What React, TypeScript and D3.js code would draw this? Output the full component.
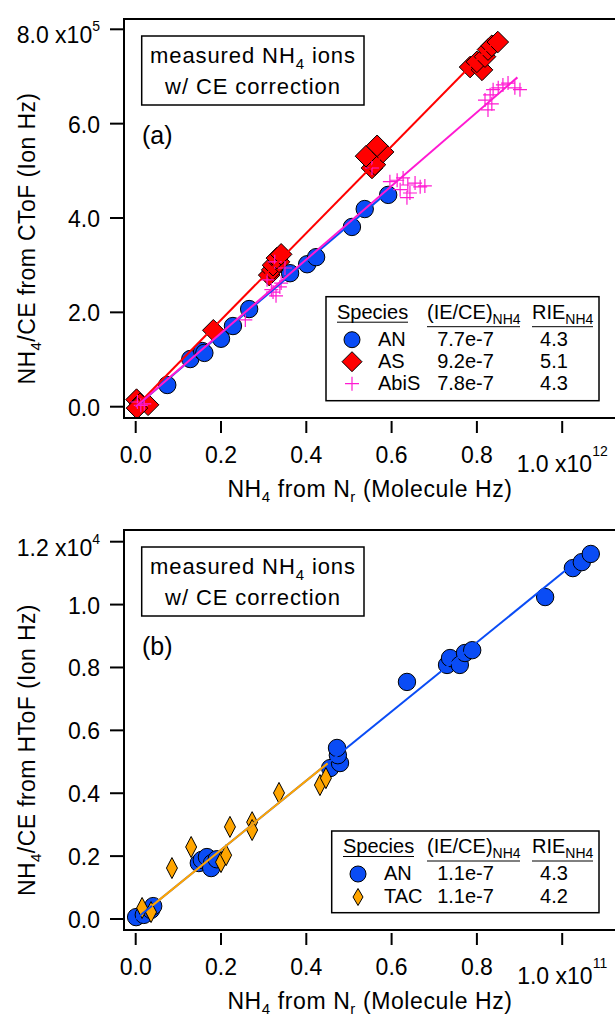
import React from "react";
import * as d3 from "d3";

// panel (a): x in 1e12 molecule Hz, y in 1e5 ion Hz
const anA: [number, number][] = [
  [0.074, 0.46], [0.128, 1.01], [0.156, 1.18], [0.161, 1.14], [0.2, 1.44],
  [0.228, 1.71], [0.266, 2.07], [0.362, 2.83], [0.402, 3.02], [0.423, 3.17],
  [0.507, 3.81], [0.537, 4.19], [0.592, 4.49],
];
const asA: [number, number][] = [
  [0.002, 0.15], [0.01, 0.06], [0.029, 0.04], [0.003, -0.03], [0.182, 1.62],
  [0.313, 2.79], [0.32, 2.9], [0.322, 3.0], [0.336, 3.07], [0.331, 3.15], [0.341, 3.23],
  [0.554, 5.06], [0.561, 5.13], [0.54, 5.31], [0.58, 5.4], [0.566, 5.53],
  [0.784, 7.2], [0.812, 7.14], [0.8, 7.31], [0.819, 7.42], [0.826, 7.57], [0.835, 7.65], [0.849, 7.73],
];
const abisA: [number, number][] = [
  [0.004, 0.1], [0.012, 0.03], [0.02, 0.06],
  [0.257, 1.84], [0.308, 2.69], [0.322, 2.43], [0.338, 2.54], [0.318, 2.48], [0.329, 2.35],
  [0.341, 2.62], [0.326, 3.07], [0.35, 2.94],
  [0.554, 5.06], [0.596, 4.77], [0.613, 4.8], [0.627, 4.85], [0.638, 4.7], [0.655, 4.74],
  [0.667, 4.66], [0.678, 4.68], [0.643, 4.53], [0.636, 4.43], [0.62, 4.6],
  [0.819, 6.5], [0.831, 6.61], [0.838, 6.72], [0.85, 6.76], [0.861, 6.82], [0.873, 6.86],
  [0.889, 6.76], [0.901, 6.72], [0.826, 6.29], [0.835, 6.42],
];

// panel (b): x in 1e11 molecule Hz, y in 1e4 ion Hz
const anB: [number, number][] = [
  [0.001, 0.006], [0.019, 0.013], [0.036, 0.029], [0.041, 0.041],
  [0.148, 0.178], [0.155, 0.188], [0.167, 0.197], [0.179, 0.178], [0.177, 0.162], [0.19, 0.19],
  [0.456, 0.48], [0.479, 0.496], [0.474, 0.521], [0.472, 0.544],
  [0.636, 0.754], [0.73, 0.808], [0.737, 0.83], [0.76, 0.808], [0.772, 0.846], [0.789, 0.855],
  [0.96, 1.024], [1.025, 1.116], [1.046, 1.135], [1.067, 1.161],
];
const tacB: [number, number][] = [
  [0.015, 0.035], [0.036, 0.022], [0.085, 0.162], [0.13, 0.229], [0.2, 0.181], [0.212, 0.203],
  [0.221, 0.293], [0.273, 0.308], [0.273, 0.283], [0.336, 0.401], [0.432, 0.426], [0.446, 0.448],
];

const xTicks = [0, 0.2, 0.4, 0.6, 0.8, 1.0];
const yTicksA = [0, 2, 4, 6, 8];
const yTicksB = [0, 0.2, 0.4, 0.6, 0.8, 1.0, 1.2];

// legend rows: species, (IE/CE)NH4 slope, RIE; plus the x span of each fit line
const speciesA = ["AN", "AS", "AbiS"];
const slopesA = [7.7e-7, 9.2e-7, 7.8e-7];
const rieA = ["4.3", "5.1", "4.3"];
const fitSpanA: [number, number][] = [[0, 0.59], [0, 0.849], [0, 0.895]];

const speciesB = ["AN", "TAC"];
const slopesB = [1.1e-7, 1.1e-7];
const rieB = ["4.3", "4.2"];
const fitSpanB: [number, number][] = [[0, 1.011], [0.038, 0.45]];

const FONT = "'Liberation Sans', Arial, Helvetica, sans-serif";
const BLUE = "#0a4cf5";
const RED = "#ff0000";
const MAGENTA = "#ff1ad2";
const ORANGE = "#ffa500";

function Marker({ kind, x, y, small }: { kind: string; x: number; y: number; small?: boolean }) {
  if (kind === "circle")
    return <circle cx={x} cy={y} r={small ? 8 : 8.7} fill={BLUE} stroke="#000" strokeWidth={1} />;
  if (kind === "diamond") {
    const s = small ? 10 : 10.8;
    return <path d={`M${x},${y - s}L${x + s},${y}L${x},${y + s}L${x - s},${y}Z`} fill={RED} stroke="#000" strokeWidth={1} />;
  }
  if (kind === "plus") {
    const s = 7;
    return <path d={`M${x - s},${y}H${x + s}M${x},${y - s}V${y + s}`} stroke={MAGENTA} strokeWidth={1.2} fill="none" />;
  }
  const w = small ? 5 : 5.5, h = small ? 8.5 : 10.5;
  return <path d={`M${x},${y - h}L${x + w},${y}L${x},${y + h}L${x - w},${y}Z`} fill={ORANGE} stroke="#000" strokeWidth={1} />;
}

type Series = { data: [number, number][]; kind: string };
type Fit = { slope: number; span: [number, number]; color: string };

function Panel(props: {
  top: number; bottom: number; y0: number; yTop: number; yTicks: number[]; yMax: number;
  yExp: string; xExp: string; tag: string; yTitle: string; series: Series[]; fits: Fit[];
  legend: { species: string[]; slopes: number[]; rie: string[]; kinds: string[] };
  legendBox: [number, number, number, number]; rowGap: number; legendX: number;
}) {
  const { top, bottom, y0, yTop, yTicks, yMax } = props;
  const left = 124, right = 617;
  const x = d3.scaleLinear().domain([0, 1]).range([135.7, 562.2]);
  const y = d3.scaleLinear().domain([0, yMax]).range([y0, yTop]);
  const line = d3.line<[number, number]>().x((d) => x(d[0])).y((d) => y(d[1]));
  const fmt = d3.format(".1f");
  const [lx0, ly0, lx1, ly1] = props.legendBox;
  const hb = ly0 + 22;
  const mx = props.legendX;

  return (
    <g fontFamily={FONT}>
      <defs>
        <clipPath id={`clip${props.tag}`}>
          <rect x={left} y={top} width={right - left} height={bottom - top} />
        </clipPath>
      </defs>
      <g clipPath={`url(#clip${props.tag})`}>
        {props.series.map((s, i) => (
          <g key={i}>
            {s.data.map((d, j) => <Marker key={j} kind={s.kind} x={x(d[0])} y={y(d[1])} />)}
          </g>
        ))}
        {props.fits.map((f, i) => (
          <path key={i} d={line(f.span.map((v) => [v, v * f.slope * 1e7]) as [number, number][]) || ""}
            stroke={f.color} strokeWidth={2} fill="none" />
        ))}
      </g>
      <rect x={left} y={top} width={right - left} height={bottom - top} fill="none" stroke="#000" strokeWidth={2} />
      {/* y axis */}
      {yTicks.map((t, i) => {
        const last = i === yTicks.length - 1;
        return (
          <g key={t}>
            <line x1={110} x2={left} y1={y(t)} y2={y(t)} stroke="#000" strokeWidth={2} />
            {last ? (
              <text x={100} y={y(t) + 14} fontSize={23} textAnchor="end">
                {fmt(t)} x10<tspan fontSize={14} dy={-12}>{props.yExp}</tspan>
              </text>
            ) : (
              <text x={100} y={y(t) + 9} fontSize={23} textAnchor="end">{fmt(t)}</text>
            )}
          </g>
        );
      })}
      {/* x axis */}
      {xTicks.map((t, i) => {
        const last = i === xTicks.length - 1;
        return (
          <g key={t}>
            <line x1={x(t)} x2={x(t)} y1={bottom + 3} y2={bottom + 15} stroke="#000" strokeWidth={2} />
            {last ? (
              <text x={x(t)} y={bottom + 54} fontSize={23} textAnchor="middle">
                {fmt(t)} x10<tspan fontSize={14} dy={-16}>{props.xExp}</tspan>
              </text>
            ) : (
              <text x={x(t)} y={bottom + 45} fontSize={23} textAnchor="middle">{fmt(t)}</text>
            )}
          </g>
        );
      })}
      <text x={370} y={bottom + 79} fontSize={23} textAnchor="middle" letterSpacing={0.6}>
        NH<tspan fontSize={15} dy={5}>4</tspan><tspan dy={-5}> from N</tspan>
        <tspan fontSize={15} dy={5}>r</tspan><tspan dy={-5}> (Molecule Hz)</tspan>
      </text>
      <text transform={`translate(35,${(top + bottom) / 2 + 20}) rotate(-90)`} fontSize={23} textAnchor="middle" letterSpacing={0.4}>
        NH<tspan fontSize={15} dy={6}>4</tspan><tspan dy={-6}>{props.yTitle}</tspan>
      </text>
      {/* note box */}
      <rect x={141.7} y={top + 17} width={222.3} height={69} fill="#fff" stroke="#000" strokeWidth={1.5} />
      <text x={253} y={top + 44} fontSize={22} textAnchor="middle" letterSpacing={0.9}>
        measured NH<tspan fontSize={15} dy={6}>4</tspan><tspan dy={-6}> ions</tspan>
      </text>
      <text x={253} y={top + 75} fontSize={22} textAnchor="middle" letterSpacing={0.9}>w/ CE correction</text>
      <text x={142} y={top + 125} fontSize={25}>({props.tag})</text>
      {/* legend */}
      <rect x={lx0} y={ly0} width={lx1 - lx0} height={ly1 - ly0} fill="#fff" stroke="#000" strokeWidth={1.5} />
      <g fontSize={20}>
        <text x={mx - 15} y={hb}>Species</text>
        <line x1={mx - 15} x2={mx + 56} y1={hb + 3.5} y2={hb + 3.5} stroke="#000" strokeWidth={1} />
        <text x={427} y={hb}>(IE/CE)<tspan fontSize={14} dy={5}>NH4</tspan></text>
        <line x1={427} x2={520} y1={hb + 8} y2={hb + 8} stroke="#000" strokeWidth={1} />
        <text x={532} y={hb}>RIE<tspan fontSize={14} dy={5}>NH4</tspan></text>
        <line x1={532} x2={593} y1={hb + 8} y2={hb + 8} stroke="#000" strokeWidth={1} />
        {props.legend.species.map((sp, i) => {
          const by = hb + 27 + i * props.rowGap;
          return (
            <g key={sp}>
              <Marker kind={props.legend.kinds[i]} x={mx} y={by - 6} small />
              <text x={mx + 26} y={by}>{sp}</text>
              <text x={465.5} y={by} textAnchor="middle">{d3.format(".1e")(props.legend.slopes[i])}</text>
              <text x={554} y={by} textAnchor="middle">{props.legend.rie[i]}</text>
            </g>
          );
        })}
      </g>
    </g>
  );
}

export default function App() {
  return (
    <svg width={615} height={1017} style={{ position: "absolute", left: 0, top: 0, background: "#fff" }}>
      <rect width={615} height={1017} fill="#fff" />
      <Panel
        top={19} bottom={418} y0={406.7} yTop={29.3} yMax={8} yTicks={yTicksA}
        yExp="5" xExp="12" tag="a" yTitle="/CE from CToF (Ion Hz)"
        series={[{ data: anA, kind: "circle" }, { data: asA, kind: "diamond" }, { data: abisA, kind: "plus" }]}
        fits={[
          { slope: slopesA[0], span: fitSpanA[0], color: BLUE },
          { slope: slopesA[1], span: fitSpanA[1], color: RED },
          { slope: slopesA[2], span: fitSpanA[2], color: MAGENTA },
        ]}
        legend={{ species: speciesA, slopes: slopesA, rie: rieA, kinds: ["circle", "diamond", "plus"] }}
        legendBox={[326, 296.7, 599, 400.7]} rowGap={22} legendX={352}
      />
      <Panel
        top={530} bottom={930} y0={919} yTop={541.7} yMax={1.2} yTicks={yTicksB}
        yExp="4" xExp="11" tag="b" yTitle="/CE from HToF (Ion Hz)"
        series={[{ data: anB, kind: "circle" }, { data: tacB, kind: "tall" }]}
        fits={[
          { slope: slopesB[0], span: fitSpanB[0], color: BLUE },
          { slope: slopesB[1], span: fitSpanB[1], color: ORANGE },
        ]}
        legend={{ species: speciesB, slopes: slopesB, rie: rieB, kinds: ["circle", "tall"] }}
        legendBox={[331.7, 831, 599, 912.7]} rowGap={23} legendX={358}
      />
    </svg>
  );
}
